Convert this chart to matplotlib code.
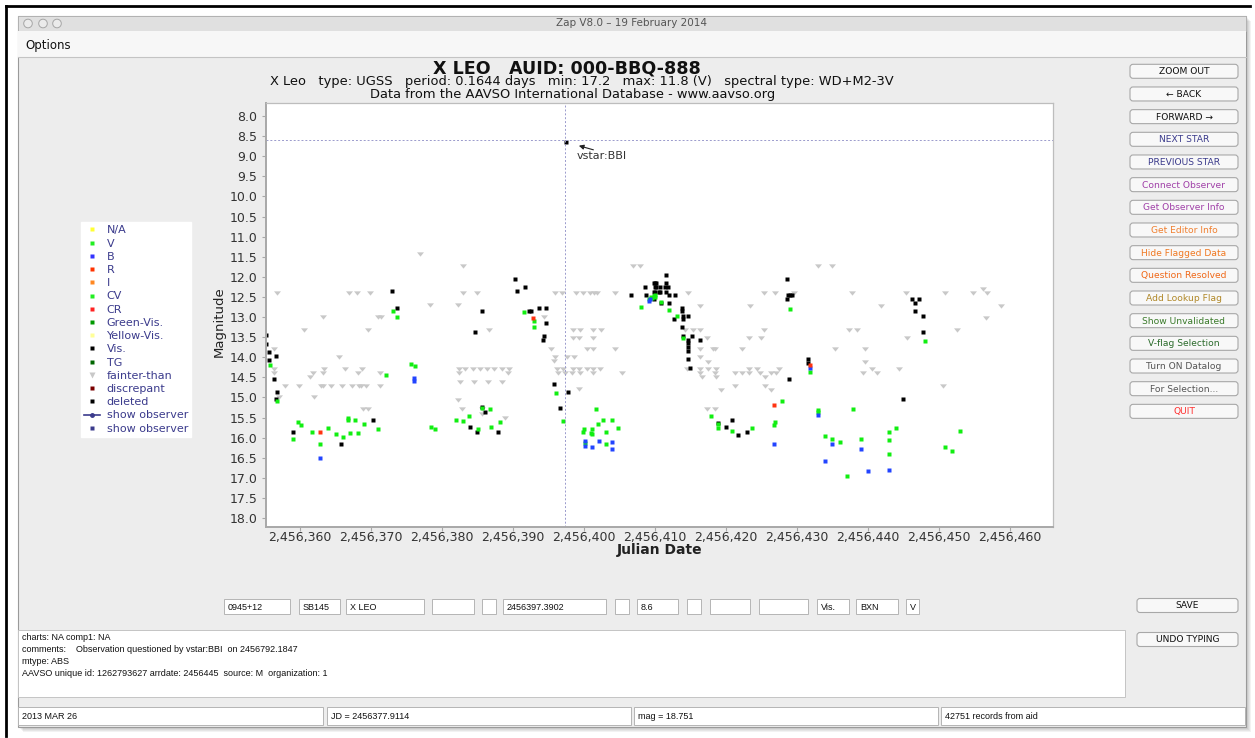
import matplotlib
matplotlib.use('Agg')
import matplotlib.pyplot as plt
from matplotlib.patches import Rectangle, FancyBboxPatch, Circle
from matplotlib.lines import Line2D
from matplotlib.ticker import FuncFormatter, MultipleLocator

W, H = 1255, 738
JD0 = 2456000   # reduced Julian Date offset

##############################
#   DATA (JD - 2456000, magnitude)
##############################
# Vis. observations (black)
vis = [(397.5, 8.65),
       (355.2, 13.45), (355.2, 13.66), (355.7, 13.86), (356.6, 13.97), (355.6, 14.07),
       (356.3, 14.55), (356.7, 14.86), (356.6, 15.05), (359.0, 15.85), (365.8, 16.16),
       (370.3, 15.55), (372.9, 12.36), (373.6, 12.77), (383.9, 15.74), (384.6, 13.37),
       (385.0, 15.85), (385.7, 12.85), (385.7, 15.25), (386.1, 15.36), (387.9, 15.85),
       (390.3, 12.06), (390.6, 12.36), (391.7, 12.26), (392.3, 12.85), (392.6, 12.85),
       (393.6, 12.77), (394.6, 12.77), (394.7, 13.16), (394.3, 13.46), (394.2, 13.56),
       (395.8, 14.66), (396.6, 15.26), (397.7, 14.87), (406.6, 12.46), (408.6, 12.26),
       (408.8, 12.46), (409.8, 12.16), (409.8, 12.56), (409.9, 12.37), (410.0, 12.16),
       (410.0, 12.26), (410.0, 12.37), (410.2, 12.16), (410.2, 12.26), (410.5, 12.37),
       (410.7, 12.26), (410.7, 12.37), (410.9, 12.66), (411.4, 12.26), (411.6, 11.96),
       (411.6, 12.16), (411.6, 12.37), (411.9, 12.26), (412.0, 12.46), (412.0, 12.66),
       (412.7, 13.06), (412.8, 12.46), (413.8, 12.77), (413.8, 12.86), (413.8, 13.26),
       (413.9, 13.06), (413.9, 13.46), (414.0, 12.97), (414.7, 12.97), (414.7, 13.56),
       (414.7, 13.65), (414.7, 13.75), (414.7, 13.85), (414.7, 14.05), (414.9, 14.26),
       (415.2, 13.46), (416.3, 13.56), (418.9, 15.64), (420.0, 15.74), (420.9, 15.55),
       (421.7, 15.94), (422.9, 15.85), (428.6, 12.06), (428.6, 12.56), (428.7, 12.46),
       (428.9, 14.54), (429.0, 12.46), (429.3, 12.46), (431.6, 14.05), (431.6, 14.15),
       (445.0, 15.05), (446.2, 12.56), (446.6, 12.66), (446.6, 12.86), (447.2, 12.56),
       (447.7, 12.97), (447.7, 13.36)]

# V band (green)
vband = [(355.8, 14.19), (356.8, 15.08), (359.7, 15.62), (360.1, 15.69), (359.0, 16.03),
         (361.7, 15.85), (362.8, 16.16), (363.9, 15.77), (365.1, 15.92), (366.0, 15.99),
         (366.7, 15.50), (366.8, 15.55), (367.7, 15.55), (367.0, 15.88), (368.1, 15.88),
         (369.0, 15.65), (371.0, 15.79), (372.1, 14.44), (373.1, 12.84), (373.7, 12.99),
         (375.7, 14.17), (376.2, 14.21), (378.5, 15.73), (379.0, 15.79), (382.0, 15.56),
         (382.9, 15.58), (383.8, 15.45), (385.1, 15.78), (385.7, 15.27), (386.8, 15.28),
         (386.9, 15.73), (388.1, 15.60), (391.6, 12.88), (392.9, 13.09), (393.0, 13.24),
         (396.0, 14.88), (397.0, 15.59), (401.7, 15.28), (402.7, 15.56), (404.0, 15.56),
         (402.0, 15.66), (404.8, 15.75), (400.0, 15.78), (401.1, 15.78), (399.9, 15.85),
         (401.0, 15.89), (401.1, 15.92), (403.1, 15.86), (400.1, 16.14), (403.1, 16.16),
         (408.0, 12.74), (409.1, 12.54), (409.5, 12.49), (410.0, 12.45), (409.8, 12.48),
         (410.0, 12.51), (409.6, 12.53), (410.9, 12.62), (412.0, 12.83), (413.1, 12.97),
         (414.0, 13.53), (417.9, 15.46), (418.9, 15.67), (418.9, 15.75), (420.9, 15.83),
         (423.7, 15.77), (427.9, 15.10), (426.9, 15.60), (426.8, 15.68), (429.0, 12.80),
         (431.8, 14.37), (433.0, 15.31), (433.0, 15.36), (437.9, 15.30), (434.0, 15.95),
         (435.0, 16.03), (436.0, 16.10), (439.0, 16.03), (437.0, 16.95), (443.0, 15.86),
         (444.0, 15.75), (443.0, 16.07), (443.0, 16.41), (448.0, 13.60), (450.9, 16.23),
         (451.9, 16.34), (453.0, 15.83)]

# B band (blue)
bband = [(362.8, 16.51), (376.1, 14.51), (376.1, 14.59), (400.1, 16.08), (400.1, 16.20),
         (401.1, 16.24), (402.1, 16.08), (404.0, 16.11), (404.0, 16.28), (409.1, 12.59),
         (409.3, 12.56), (431.8, 14.28), (433.0, 15.44), (426.8, 16.17), (434.0, 16.57),
         (435.0, 16.17), (439.0, 16.28), (440.0, 16.82), (443.0, 16.80)]

# R band (red)
rband = [(362.8, 15.86), (392.8, 13.03), (431.8, 14.19), (426.8, 15.18)]

# fainter-than estimates (grey)
fainter = [(376.9, 11.42), (382.9, 11.72), (406.9, 11.72), (407.9, 11.72), (432.9, 11.72),
           (434.9, 11.72), (456.2, 12.31),
           (356.7, 12.41), (366.9, 12.41), (368.0, 12.41), (369.9, 12.41), (382.9, 12.41),
           (384.9, 12.41), (395.9, 12.41), (396.9, 12.41), (398.9, 12.41), (399.9, 12.41),
           (400.8, 12.41), (401.4, 12.41), (401.9, 12.41), (404.4, 12.41), (414.6, 12.41),
           (425.4, 12.41), (426.9, 12.41), (429.6, 12.41), (437.8, 12.41), (445.4, 12.41),
           (450.9, 12.41), (454.8, 12.41), (456.8, 12.41),
           (378.3, 12.70), (382.3, 12.70), (416.3, 12.72), (423.4, 12.72), (441.8, 12.72),
           (458.8, 12.72),
           (363.2, 13.01), (371.0, 13.01), (371.4, 13.01), (394.3, 13.01), (456.6, 13.02),
           (360.6, 13.32), (369.6, 13.32), (386.6, 13.32), (398.4, 13.32), (399.4, 13.32),
           (401.3, 13.32), (402.4, 13.32), (414.2, 13.32), (415.3, 13.32), (416.3, 13.32),
           (425.4, 13.32), (437.3, 13.32), (438.4, 13.32), (452.6, 13.32),
           (398.4, 13.51), (399.3, 13.51), (401.3, 13.51), (417.3, 13.51), (423.3, 13.51),
           (424.9, 13.51), (445.5, 13.51),
           (356.3, 13.80), (395.3, 13.80), (400.4, 13.80), (401.3, 13.80), (404.3, 13.80),
           (416.3, 13.80), (418.2, 13.80), (418.5, 13.80), (422.3, 13.80), (435.3, 13.80),
           (439.6, 13.80),
           (365.5, 14.00), (395.9, 14.00), (397.6, 14.00), (398.6, 14.00), (416.3, 14.00),
           (395.8, 14.09), (417.4, 14.11), (439.6, 14.11),
           (356.3, 14.30), (363.4, 14.30), (366.3, 14.30), (368.7, 14.30), (382.4, 14.30),
           (383.3, 14.30), (384.3, 14.30), (385.4, 14.30), (386.3, 14.30), (387.3, 14.30),
           (388.4, 14.30), (389.5, 14.30), (396.2, 14.30), (397.1, 14.30), (398.4, 14.30),
           (399.3, 14.30), (400.4, 14.30), (401.3, 14.30), (402.3, 14.30), (414.5, 14.30),
           (416.3, 14.30), (417.4, 14.30), (418.6, 14.30), (423.3, 14.30), (424.4, 14.30),
           (427.4, 14.30), (440.6, 14.30), (444.3, 14.30),
           (356.3, 14.40), (361.9, 14.40), (363.3, 14.40), (368.2, 14.40), (371.3, 14.40),
           (382.4, 14.40), (389.3, 14.40), (396.3, 14.40), (397.3, 14.40), (398.3, 14.40),
           (399.4, 14.40), (401.2, 14.40), (405.4, 14.40), (416.3, 14.40), (418.5, 14.40),
           (421.3, 14.40), (422.2, 14.40), (423.3, 14.40), (424.8, 14.40), (426.3, 14.40),
           (427.1, 14.40), (439.3, 14.40), (441.3, 14.40),
           (361.4, 14.50), (416.6, 14.50), (418.6, 14.50), (425.5, 14.50),
           (382.5, 14.61), (384.5, 14.61), (386.5, 14.61), (388.5, 14.61),
           (357.9, 14.72), (359.9, 14.72), (362.9, 14.72), (363.3, 14.72), (364.4, 14.72),
           (365.9, 14.72), (367.3, 14.72), (368.3, 14.72), (368.6, 14.72), (369.3, 14.72),
           (371.3, 14.72), (421.3, 14.71), (425.5, 14.71), (450.6, 14.71),
           (399.3, 14.80), (419.3, 14.82), (426.4, 14.82),
           (357.0, 15.00), (362.0, 15.00), (382.2, 15.07),
           (368.9, 15.30), (369.6, 15.30), (382.8, 15.30), (385.7, 15.30), (417.3, 15.30),
           (418.4, 15.30), (385.7, 15.40), (388.9, 15.50)]

# selected observation and its annotation
sel_jd, sel_mag = 397.39, 8.6
sel_label = 'vstar:BBI'

x_ticks = list(range(360, 461, 10))

legend_labels = ['N/A', 'V', 'B', 'R', 'I', 'CV', 'CR', 'Green-Vis.', 'Yellow-Vis.',
                 'Vis.', 'TG', 'fainter-than', 'discrepant', 'deleted',
                 'show observer', 'show observer']
legend_colors = ['#ffff33', '#22ee22', '#3333ff', '#ff3300', '#ff8822', '#22ee22',
                 '#ff2222', '#009900', '#ffff99', '#000000', '#006600', '#c8c8c8',
                 '#7a0000', '#000000', '#3b3b8c', '#3b3b8c']

buttons = ['ZOOM OUT', '\u2190 BACK', 'FORWARD \u2192', 'NEXT STAR', 'PREVIOUS STAR',
           'Connect Observer', 'Get Observer Info', 'Get Editor Info', 'Hide Flagged Data',
           'Question Resolved', 'Add Lookup Flag', 'Show Unvalidated', 'V-flag Selection',
           'Turn ON Datalog', 'For Selection...', 'QUIT']
button_colors = ['#111111', '#111111', '#111111', '#3b3b8c', '#3b3b8c', '#a040a8',
                 '#a040a8', '#f08030', '#f07820', '#f06818', '#b08828', '#3a7a2a',
                 '#2a6a2a', '#555555', '#555555', '#ff3030']

fields = [(224, 290, '0945+12'), (299, 340, 'SB145'), (346, 424, 'X LEO'), (432, 474, ''),
          (482, 496, ''), (503, 606, '2456397.3902'), (615, 629, ''), (637, 678, '8.6'),
          (687, 701, ''), (710, 750, ''), (759, 808, ''), (817, 849, 'Vis.'),
          (856, 898, 'BXN'), (906, 919, 'V')]

info_lines = ['charts: NA comp1: NA',
              'comments:    Observation questioned by vstar:BBI  on 2456792.1847',
              'mtype: ABS',
              'AAVSO unique id: 1262793627 arrdate: 2456445  source: M  organization: 1']

status = [(18, 323, '2013 MAR 26'), (327, 631, 'JD = 2456377.9114'),
          (634, 938, 'mag = 18.751'), (941, 1245, '42751 records from aid')]

NARROW = ['Liberation Sans', 'DejaVu Sans']
NARROW_SIZE = 6.5

##############################
#   WINDOW
##############################
fig = plt.figure(figsize=(W / 100, H / 100), dpi=100)
fig.patch.set_facecolor('white')

bg = fig.add_axes([0, 0, 1, 1], zorder=0)
bg.set_xlim(0, W)
bg.set_ylim(H, 0)
bg.axis('off')

# - screenshot frame and shadow
bg.plot([6, 6], [6, 736], color='black', lw=2)
bg.plot([6, 1250], [6, 6], color='black', lw=2)
for i in range(1, 6):
    bg.add_patch(Rectangle((18 + i, 16 + i), 1228, 711, facecolor='black',
                           alpha=0.05, edgecolor='none'))

# - window body
bg.add_patch(Rectangle((18, 16), 1228, 711, facecolor='#ededed', edgecolor='#9a9a9a', lw=0.8))
bg.add_patch(Rectangle((18, 16), 1228, 15, facecolor='#e0e0e0', edgecolor='#b0b0b0', lw=0.6))
bg.add_patch(Rectangle((18, 31), 1228, 26, facecolor='#f7f7f7', edgecolor='none'))
bg.plot([18, 1246], [57, 57], color='#c4c4c4', lw=0.8)
for cx in (28, 43, 57):
    bg.add_patch(Circle((cx, 23.5), 4.3, facecolor='#ebebeb', edgecolor='#a6a6a6', lw=0.7))
bg.text(632, 23.5, 'Zap V8.0 \u2013 19 February 2014', fontsize=7.5, color='#555555',
        ha='center', va='center')
bg.text(25, 45, 'Options', fontsize=8.5, color='#111111', ha='left', va='center')

# - chart titles
bg.text(567, 69, 'X LEO   AUID: 000-BBQ-888', fontsize=12.6, fontweight='bold',
        color='#111111', ha='center', va='center')
bg.text(582, 82, 'X Leo   type: UGSS   period: 0.1644 days   min: 17.2   max: 11.8 (V)   '
        'spectral type: WD+M2-3V', fontsize=9.4, color='#111111', ha='center', va='center')
bg.text(573, 94.5, 'Data from the AAVSO International Database - www.aavso.org',
        fontsize=9.4, color='#111111', ha='center', va='center')

# - right hand buttons
def draw_button(x0, x1, yc, label, color, h=14):
    bg.add_patch(FancyBboxPatch((x0, yc - h / 2), x1 - x0, h,
                                boxstyle='round,pad=0,rounding_size=3',
                                facecolor='#f8f8f8', edgecolor='#a8a8a8', lw=0.8))
    bg.text((x0 + x1) / 2, yc + 0.5, label, fontsize=6.6, color=color,
            ha='center', va='center')

for i, (name, col) in enumerate(zip(buttons, button_colors)):
    draw_button(1130, 1238, 71.3 + i * 22.67, name, col)
draw_button(1137, 1238, 605.5, 'SAVE', '#111111')
draw_button(1137, 1238, 639.5, 'UNDO TYPING', '#111111')

# - observation fields
for x0, x1, txt in fields:
    bg.add_patch(Rectangle((x0, 599), x1 - x0, 15, facecolor='white',
                           edgecolor='#b4b4b4', lw=0.7))
    if txt:
        bg.text(x0 + 4, 607, txt, fontsize=NARROW_SIZE, family=NARROW, color='#111111',
                ha='left', va='center')

# - comments area
bg.add_patch(Rectangle((18, 630), 1107, 67, facecolor='white', edgecolor='#c4c4c4', lw=0.7))
for i, line in enumerate(info_lines):
    bg.text(22, 637 + i * 12.3, line, fontsize=NARROW_SIZE, family=NARROW, color='#111111',
            ha='left', va='center')

# - status bar
for x0, x1, txt in status:
    bg.add_patch(Rectangle((x0, 707), x1 - x0, 18, facecolor='white',
                           edgecolor='#b4b4b4', lw=0.7))
    bg.text(x0 + 4, 716.5, txt, fontsize=NARROW_SIZE, family=NARROW, color='#111111',
            ha='left', va='center')

##############################
#   LIGHT CURVE
##############################
ax = fig.add_axes([265.7 / W, 1 - 527.3 / H, 787.6 / W, 424.0 / H], zorder=2)
ax.set_facecolor('white')

rect_mark = [(-1, -0.7), (1, -0.7), (1, 0.7), (-1, 0.7), (-1, -0.7)]
tri_mark = [(-1, 0.62), (1, 0.62), (0, -0.62), (-1, 0.62)]

def unzip(pts):
    return [JD0 + p[0] for p in pts], [p[1] for p in pts]

fx, fy = unzip(fainter)
ax.plot(fx, fy, ls='none', marker=tri_mark, ms=5.0, color='#c8c8c8', mec='none')
for pts, col in ((vis, '#000000'), (vband, '#11ee11'), (bband, '#2244ff'), (rband, '#ff3311')):
    px, py = unzip(pts)
    ax.plot(px, py, ls='none', marker=rect_mark, ms=3.3, color=col, mec='none')

# - selection cross hair
ax.axvline(JD0 + sel_jd, color='#9a9acc', lw=0.7, ls=(0, (2, 2)))
ax.axhline(sel_mag, color='#9a9acc', lw=0.7, ls=(0, (2, 2)))
ax.annotate('', xy=(JD0 + 398.9, 8.72), xytext=(JD0 + 401.7, 8.86),
            arrowprops=dict(arrowstyle='-|>', color='#222222', lw=0.8, mutation_scale=7))
ax.text(JD0 + 399.0, 8.99, sel_label, fontsize=8, color='#333333', ha='left', va='center')

ax.set_xlim(JD0 + 355.17, JD0 + 466.1)
ax.set_ylim(18.23, 7.684)
ax.set_xticks([JD0 + t for t in x_ticks])
ax.xaxis.set_major_formatter(FuncFormatter(lambda v, p: '{:,.0f}'.format(v)))
ax.yaxis.set_major_locator(MultipleLocator(0.5))
ax.yaxis.set_major_formatter(FuncFormatter(lambda v, p: '%.1f' % v))
ax.tick_params(axis='both', direction='out', length=3, width=0.8, color='#a8a8a8',
               labelsize=9, labelcolor='#333333')
ax.tick_params(axis='y', pad=3)
ax.tick_params(axis='x', pad=0)
for side in ('left', 'bottom'):
    ax.spines[side].set_color('#a8a8a8')
    ax.spines[side].set_linewidth(1.4)
for side in ('right', 'top'):
    ax.spines[side].set_color('#bdbdbd')
    ax.spines[side].set_linewidth(0.9)

ax.set_xlabel('Julian Date', fontsize=10, fontweight='bold', color='#222222')
ax.xaxis.label.set_va('center')
ax.xaxis.set_label_coords(0.5, -0.054)
ax.set_ylabel('Magnitude', fontsize=9.5, color='#222222')
ax.yaxis.label.set_va('center')
ax.yaxis.set_label_coords(-0.0593, 0.484)

# - legend
handles = []
for i, (lab, col) in enumerate(zip(legend_labels, legend_colors)):
    if lab == 'fainter-than':
        h = Line2D([], [], ls='none', marker='v', ms=4, color=col, mec='none')
    elif i == len(legend_labels) - 2:
        h = Line2D([], [], ls='-', lw=1.2, marker='o', ms=2.5, color=col)
    else:
        h = Line2D([], [], ls='none', marker='s', ms=2.5, color=col, mec='none')
    h.set_label(lab)
    handles.append(h)
leg = fig.legend(handles=handles, loc='upper left', bbox_to_anchor=(81 / W, 1 - 222 / H),
                 frameon=True, fancybox=False, facecolor='white', edgecolor='white',
                 fontsize=8, labelcolor='#3b3b8c', handlelength=1.4, handletextpad=0.6,
                 labelspacing=0.29, borderpad=0.3, borderaxespad=0, framealpha=1)

plt.savefig('out.png', dpi=100)
